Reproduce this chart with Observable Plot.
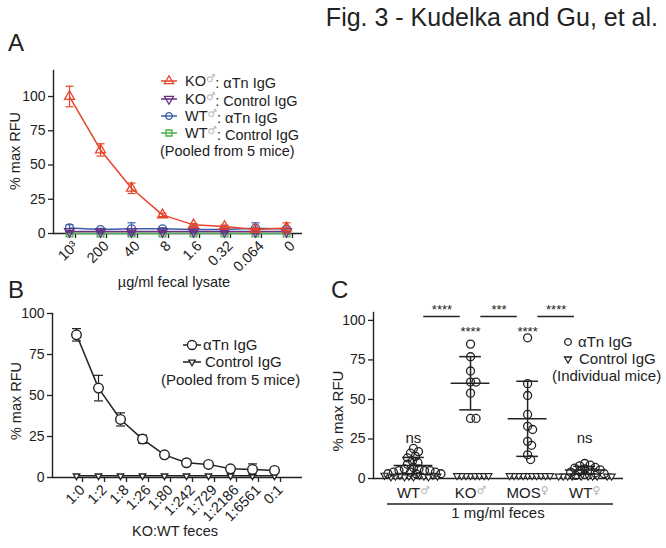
<!DOCTYPE html>
<html>
<head>
<meta charset="utf-8">
<script src="https://cdn.jsdelivr.net/npm/d3@7"></script>
<script src="https://cdn.jsdelivr.net/npm/@observablehq/plot@0.6"></script>
<style>
html,body{margin:0;padding:0;background:#fff;}
#fig{position:relative;width:666px;height:548px;overflow:hidden;background:#fff;font-family:"Liberation Sans",Arial,Helvetica,sans-serif;}
</style>
</head>
<body>
<div id="fig"></div>
<script>
// ================= DATA =================
const figTitle = "Fig. 3 - Kudelka and Gu, et al.";

// Panel A: fecal lysate titration (pooled from 5 mice)
const doseA = ["10³", "200", "40", "8", "1.6", "0.32", "0.064", "0"];
const namesA = ["KO♂: αTn IgG", "KO♂: Control IgG", "WT♂: αTn IgG", "WT♂: Control IgG"];
const koTnA = [100, 61, 33, 13.6, 6.3, 5.1, 2.9, 4.1];
const koTnErrA = [7.5, 4.5, 3.8, 1.2, 1.0, 1.0, 1.0, 3.7];
const koCtrlA = [1.5, 1.5, 1.5, 1.5, 1.5, 1.5, 1.5, 1.5];
const koCtrlErrA = [0.5, 0.5, 0.5, 0.5, 0.5, 0.5, 0.5, 0.5];
const wtTnA = [4.1, 2.9, 3.4, 3.4, 2.9, 2.9, 3.9, 3.2];
const wtTnErrA = [2.3, 0.8, 4.4, 0.8, 0.8, 0.8, 3.9, 1.5];
const wtCtrlA = [0, 0, 0, 0, 0, 0, 0, 0];
const wtCtrlErrA = [0.3, 0.3, 0.3, 0.3, 0.3, 0.3, 0.3, 0.3];
const footA = "(Pooled from 5 mice)";
const xTitleA = "µg/ml fecal lysate";

// Panel B: KO:WT feces mixing
const ratioB = ["1:0", "1:2", "1:8", "1:26", "1:80", "1:242", "1:729", "1:2186", "1:6561", "0:1"];
const namesB = ["αTn IgG", "Control IgG"];
const tnB = [87, 54.5, 35.4, 23.4, 13.8, 9, 8, 5.3, 4.9, 4.3];
const tnErrB = [3.8, 7.8, 4.0, 2.5, 1.0, 0.8, 0.8, 1.0, 3.4, 1.0];
const ctrlB = [1, 1, 1, 1, 1, 1, 1, 1, 1, 1];
const xTitleB = "KO:WT feces";

// Panel C: individual mice, 1 mg/ml feces
const groupsC = ["WT♂", "KO♂", "MOS♀", "WT♀"];
const tnWTmC = [19, 17, 16, 14, 13, 11, 10, 9, 7, 6, 6, 5, 5, 5, 4, 4, 4, 3, 3, 3];
const ctrlWTmC = [1, 1.5, 2, 1, 1.5, 2, 1, 1.5, 2, 1, 1.5, 2];
const tnKOmC = [85, 77, 68, 61, 61, 54, 38, 38];
const ctrlKOmC = [1.8, 1.8, 1.8, 1.8, 1.8, 1.8, 1.8, 1.8];
const tnMOSfC = [89, 60, 52.5, 40.5, 33, 31, 23.5, 21, 15, 12];
const ctrlMOSfC = [1.8, 1.8, 1.8, 1.8, 1.8, 1.8, 1.8, 1.8, 1.8, 1.8];
const tnWTfC = [9.5, 8.5, 8, 7, 6.5, 6, 5.5, 5, 4.5, 4, 3.5, 3, 2.5, 2];
const ctrlWTfC = [1.5, 1.5, 1.5, 1.5, 1.5, 1.5, 1.5, 1.5, 1.5, 1.5];
const sigC = ["ns", "****", "****", "ns"];
const compFromC = ["WT♂", "KO♂", "MOS♀"];
const compToC = ["KO♂", "MOS♀", "WT♀"];
const compSigC = ["****", "***", "****"];
const namesC = ["αTn IgG", "Control IgG"];
const footC = "(Individual mice)";
const xTitleC = "1 mg/ml feces";
const yTitle = "% max RFU";
const yTicks = [0, 25, 50, 75, 100];

// ================= STYLE / LAYOUT =================
const FONT = '"Liberation Sans", Arial, Helvetica, sans-serif';
const INK = "#222";
const GREY = "#b4b4b4";
const colorsA = ["#e5452b", "#6b2f86", "#3c5ea8", "#4cae4c"];
const symA = [["triangle", 0, 3.7], ["triangle", 180, 3.7], ["circle", 0, 4], ["square", 0, 3.8]];
// horizontal cap symbol for error bars (half-width = r)
const capSymbol = {draw(ctx, size) { const w = Math.sqrt(size / Math.PI); ctx.moveTo(-w, 0); ctx.lineTo(w, 0); }};
const fig = document.getElementById("fig");
function place(el, left, top) {
  el.style.position = "absolute";
  el.style.left = left + "px";
  el.style.top = top + "px";
  fig.appendChild(el);
  return el;
}
const baseStyle = {fontFamily: FONT, fontSize: "14px", color: INK, background: "transparent", overflow: "visible"};
const rotAxis = {tickRotate: -45, tickSize: 5, tickPadding: 5, dx: 6, label: null, fontSize: 14.5, strokeWidth: 1.3};

// ================= PANEL A =================
const seriesA = [
  {values: koTnA, err: koTnErrA},
  {values: koCtrlA, err: koCtrlErrA},
  {values: wtTnA, err: wtTnErrA},
  {values: wtCtrlA, err: wtCtrlErrA}
];
const rowsA = seriesA.flatMap((s, k) => s.values.map((v, i) => ({k, x: doseA[i], v, e: s.err[i]})));
const marksA = [];
for (const k of [3, 2, 1, 0]) {
  const rows = rowsA.filter(d => d.k === k);
  const c = colorsA[k];
  marksA.push(
    Plot.ruleX(rows, {x: "x", y1: d => d.v - d.e, y2: d => d.v + d.e, stroke: c, strokeWidth: 1.2}),
    Plot.dot(rows, {x: "x", y: d => d.v + d.e, symbol: capSymbol, r: 4, stroke: c, strokeWidth: 1.2}),
    Plot.dot(rows, {x: "x", y: d => d.v - d.e, symbol: capSymbol, r: 4, stroke: c, strokeWidth: 1.2}),
    Plot.line(rows, {x: "x", y: "v", stroke: c, strokeWidth: 1.5}),
    Plot.dot(rows, {x: "x", y: "v", symbol: symA[k][0], rotate: symA[k][1], r: symA[k][2], stroke: c, fill: "none", strokeWidth: 1.3})
  );
}
const plotA = Plot.plot({
  width: 330, height: 232,
  marginLeft: 53, marginRight: 28, marginTop: 10, marginBottom: 59,
  style: baseStyle,
  x: {type: "point", domain: doseA, padding: 0.5},
  y: {domain: [0, 119]},
  marks: [
    Plot.axisX(rotAxis),
    Plot.axisY({ticks: yTicks, tickSize: 5, tickPadding: 3, label: null, fontSize: 14, strokeWidth: 1.3}),
    Plot.frame({anchor: "left", strokeWidth: 1.4}),
    Plot.ruleY([0], {strokeWidth: 1.4}),
    ...marksA
  ]
});
place(plotA, 0, 60);

// ================= PANEL B =================
const rowsB = tnB.map((v, i) => ({x: ratioB[i], v, e: tnErrB[i], c: ctrlB[i]}));
const plotB = Plot.plot({
  width: 330, height: 240,
  marginLeft: 52, marginRight: 28, marginTop: 13, marginBottom: 63,
  style: baseStyle,
  x: {type: "point", domain: ratioB, padding: 1.18, align: 0.46},
  y: {domain: [0, 100]},
  marks: [
    Plot.axisX(rotAxis),
    Plot.axisY({ticks: yTicks, tickSize: 5, tickPadding: 3, label: null, fontSize: 14, strokeWidth: 1.3}),
    Plot.frame({anchor: "left", strokeWidth: 1.4}),
    Plot.ruleY([0], {strokeWidth: 1.4}),
    Plot.line(rowsB, {x: "x", y: "c", stroke: INK, strokeWidth: 1.5}),
    Plot.dot(rowsB, {x: "x", y: "c", symbol: "triangle", rotate: 180, r: 2.4, stroke: INK, fill: "white", strokeWidth: 1.3}),
    Plot.ruleX(rowsB, {x: "x", y1: d => d.v - d.e, y2: d => d.v + d.e, stroke: INK, strokeWidth: 1.2}),
    Plot.dot(rowsB, {x: "x", y: d => d.v + d.e, symbol: capSymbol, r: 4.5, stroke: INK, strokeWidth: 1.2}),
    Plot.dot(rowsB, {x: "x", y: d => d.v - d.e, symbol: capSymbol, r: 4.5, stroke: INK, strokeWidth: 1.2}),
    Plot.line(rowsB, {x: "x", y: "v", stroke: INK, strokeWidth: 1.5}),
    Plot.dot(rowsB, {x: "x", y: "v", r: 4.8, stroke: INK, fill: "white", strokeWidth: 1.4})
  ]
});
place(plotB, 0, 300);

// ================= PANEL C =================
const xDomC = [-0.70, 3.68];
const yDomC = [0, 105];
const wC = 336, hC = 220, mlC = 43, mrC = 43, mtC = 22, mbC = 32;
const PXX = (wC - mlC - mrC) / (xDomC[1] - xDomC[0]);
const PXY = (hC - mtC - mbC) / (yDomC[1] - yDomC[0]);
const tnC = [tnWTmC, tnKOmC, tnMOSfC, tnWTfC];
const ctrlC = [ctrlWTmC, ctrlKOmC, ctrlMOSfC, ctrlWTfC];

function swarm(points) {
  const placed = [];
  const minD = (a, b) => a.kind === b.kind ? (a.kind === "tn" ? 5.5 : 4.5) : 3.5;
  for (const p of points) {
    const py = p.v * PXY;
    p.px = 0;
    for (let n = 0; n < 800; n++) {
      const cand = (n % 2 ? 1 : -1) * Math.ceil(n / 2) * 0.5;
      if (placed.every(q => Math.hypot(q.px - cand, q.py - py) >= minD(p, q))) { p.px = cand; break; }
    }
    p.py = py;
    placed.push(p);
    p.off = p.px / PXX;
  }
}
const pointsC = [];
const statsC = [];
groupsC.forEach((g, i) => {
  const circles = tnC[i].map(v => ({i, v, kind: "tn"})).sort((a, b) => b.v - a.v);
  const tris = ctrlC[i].map(v => ({i, v, kind: "ctrl"}));
  const pts = [...circles, ...tris];
  swarm(pts);
  pointsC.push(...pts);
  statsC.push({i, mean: d3.mean(tnC[i]), sd: d3.deviation(tnC[i]), sig: sigC[i]});
});
const compRows = compSigC.map((s, j) => {
  const a = groupsC.indexOf(compFromC[j]), b = groupsC.indexOf(compToC[j]);
  return {mid: (a + b) / 2, label: s};
});

const plotC = Plot.plot({
  width: wC, height: hC,
  marginLeft: mlC, marginRight: mrC, marginTop: mtC, marginBottom: mbC,
  style: baseStyle,
  x: {domain: xDomC},
  y: {domain: yDomC},
  marks: [
    Plot.axisX({ticks: [0, 1, 2, 3], tickFormat: i => groupsC[i], tickSize: 0, tickPadding: 9, label: null, fontSize: 15}),
    Plot.axisY({ticks: yTicks, tickSize: 5, tickPadding: 3, label: null, fontSize: 14, strokeWidth: 1.3}),
    Plot.frame({anchor: "left", strokeWidth: 1.4}),
    Plot.ruleY([0], {strokeWidth: 1.4}),
    Plot.dot(pointsC.filter(d => d.kind === "ctrl"), {x: d => d.i + d.off, y: "v", symbol: "triangle", rotate: 180, r: 2.6, stroke: INK, fill: "white", strokeWidth: 1.1}),
    Plot.dot(pointsC.filter(d => d.kind === "tn"), {x: d => d.i + d.off, y: "v", r: 4, stroke: INK, fill: "none", strokeWidth: 1.3}),
    Plot.ruleY(statsC, {y: "mean", x1: d => d.i - 0.34, x2: d => d.i + 0.34, stroke: INK, strokeWidth: 1.5}),
    Plot.ruleY(statsC, {y: d => d.mean + d.sd, x1: d => d.i - 0.19, x2: d => d.i + 0.19, stroke: INK, strokeWidth: 1.5}),
    Plot.ruleY(statsC, {y: d => Math.max(0, d.mean - d.sd), x1: d => d.i - 0.19, x2: d => d.i + 0.19, stroke: INK, strokeWidth: 1.5}),
    Plot.ruleX(statsC, {x: "i", y1: d => Math.max(0, d.mean - d.sd), y2: d => d.mean + d.sd, stroke: INK, strokeWidth: 1.5}),
    Plot.text(statsC.filter(d => d.sig === "ns"), {x: "i", y: () => 25.3, text: "sig", fontSize: 15, fill: INK}),
    Plot.text(statsC.filter(d => d.sig !== "ns"), {x: "i", y: () => 93, text: "sig", fontSize: 13, fill: INK}),
    Plot.ruleY(compRows, {x1: d => d.mid - 0.32, x2: d => d.mid + 0.32, y: () => 102.5, stroke: INK, strokeWidth: 1.4}),
    Plot.text(compRows, {x: "mid", y: () => 106.5, text: "label", fontSize: 13, fill: INK})
  ]
});
place(plotC, 330, 290);

// rich text: sex symbol as small grey superscript
function richSex(textSel, str) {
  textSel.text(null);
  const m = str.match(/^(.*?)([♂♀])(.*)$/);
  if (!m) { textSel.text(str); return; }
  textSel.append("tspan").text(m[1]);
  textSel.append("tspan").attr("fill", GREY).attr("font-family", '"DejaVu Sans", sans-serif')
    .attr("font-size", "0.72em").attr("dy", "-0.42em").text(m[2]);
  if (m[3]) textSel.append("tspan").attr("dy", "0.42em").text(m[3]);
}
d3.select(plotC).selectAll("text").each(function () {
  const t = this.textContent;
  if (groupsC.includes(t)) richSex(d3.select(this), t);
});

// ================= OVERLAY (titles, legends, axis titles) =================
const ov = d3.create("svg").attr("width", 666).attr("height", 548)
  .style("position", "absolute").style("left", "0px").style("top", "0px")
  .style("pointer-events", "none")
  .attr("font-family", FONT).attr("fill", INK);
fig.appendChild(ov.node());

function label(str, x, y, size, anchor = "start", rotate = 0) {
  const t = ov.append("text")
    .attr("transform", `translate(${x},${y})` + (rotate ? ` rotate(${rotate})` : ""))
    .attr("font-size", size).attr("text-anchor", anchor).attr("dy", "0.35em");
  richSex(t, str);
  return t;
}
function swatch(x1, x2, y, color, sym, rot, r, withLine = true, fill = "none") {
  if (withLine) ov.append("line").attr("x1", x1).attr("x2", x2).attr("y1", y).attr("y2", y).attr("stroke", color).attr("stroke-width", 1.5);
  const types = {circle: d3.symbolCircle, triangle: d3.symbolTriangle, square: d3.symbolSquare};
  ov.append("path").attr("d", d3.symbol(types[sym], Math.PI * r * r)())
    .attr("transform", `translate(${(x1 + x2) / 2},${y}) rotate(${rot})`)
    .attr("fill", fill).attr("stroke", color).attr("stroke-width", 1.3);
}

// figure title and panel letters
label(figTitle, 658, 17, 25, "end");
label("A", 8, 43, 24);
label("B", 8, 290, 24);
label("C", 331, 290, 24);

// Panel A legend & axis titles
const legY_A = [81, 99, 116, 133];
namesA.forEach((n, k) => {
  swatch(161, 177, legY_A[k], colorsA[k], symA[k][0], symA[k][1], 3.4);
  label(n, 185, legY_A[k], 14.5);
});
label(footA, 160, 151, 14.5);
label(yTitle, 15, 151, 14.5, "middle", -90);
label(xTitleA, 174, 282, 14.5, "middle");

// Panel B legend & axis titles
swatch(183, 201, 345, INK, "circle", 0, 4.5, true, "white");
label(namesB[0], 203, 345, 15);
swatch(183, 201, 362, INK, "triangle", 180, 2.4, true, "white");
label(namesB[1], 205, 362, 15);
label(footA, 161, 380, 15);
label(yTitle, 16, 401, 14.5, "middle", -90);
label(xTitleB, 175, 531, 14.5, "middle");

// Panel C legend & axis titles
swatch(564, 572, 342, INK, "circle", 0, 3.3, false, "none");
label(namesC[0], 578, 342, 15);
swatch(564, 572, 359, INK, "triangle", 180, 2.6, false, "white");
label(namesC[1], 579, 359, 15);
label(footC, 552, 376, 15);
label(yTitle, 338, 411, 15, "middle", -90);
ov.append("line").attr("x1", 387).attr("x2", 613).attr("y1", 504).attr("y2", 504).attr("stroke", INK).attr("stroke-width", 1.3);
label(xTitleC, 498, 513, 15, "middle");
</script>
</body>
</html>
